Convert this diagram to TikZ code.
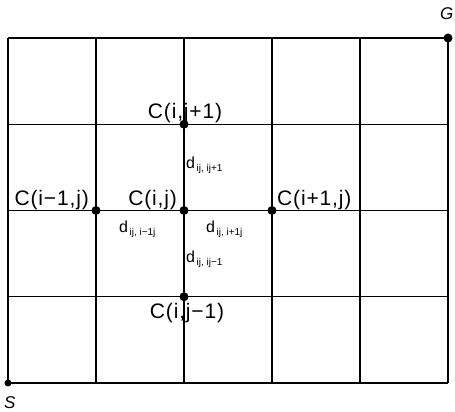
\documentclass[tikz,border=0pt]{standalone}
\usepackage{fontspec}
\setmainfont{Liberation Sans}
\newfontfamily\cellfont[LetterSpace=4]{Liberation Sans}
\usepackage{tikz}
\usetikzlibrary{positioning}
\definecolor{ink}{RGB}{0,0,0}
\newcommand{\dsub}[1]{d\kern1.5pt\raisebox{-3.5pt}{\fontsize{10}{10}\selectfont #1}}
\tikzset{
  gridline/.style={line width=1.3pt,ink},
  vertex/.style={circle,fill=ink,inner sep=0pt,minimum size=9pt},
  cell/.style={font=\cellfont\fontsize{21}{24}\selectfont,inner sep=0pt,text=ink},
  cost/.style={font=\fontsize{16}{18}\selectfont,inner sep=0pt,text=ink,anchor=base west},
  corner/.style={font=\fontsize{17}{20}\selectfont\itshape,inner sep=0pt,text=ink,anchor=base west}
}

\begin{document}
\begin{tikzpicture}[x=88pt,y=86.25pt]
  \useasboundingbox (-8pt,-29pt) rectangle ++(455pt,412pt);
  \draw[gridline] (0,0) grid[step={(1,1)}] (5,4);
  % start, goal and the cell with its four neighbours
  \node[vertex,minimum size=7pt] (S) at (0,0) {};
  \node[vertex] (G) at (5,4) {};
  \node[vertex] (cij) at (2,2) {};
  \node[vertex] (cimj) at (1,2) {};
  \node[vertex] (cipj) at (3,2) {};
  \node[vertex] (cijp) at (2,3) {};
  \node[vertex] (cijm) at (2,1) {};
  \node[corner,xshift=-4pt,yshift=-26pt] (lS) at (S.center) {S};
  \node[corner,xshift=-8pt,yshift=18pt] (lG) at (G.center) {G};
  \node[cell,anchor=base east,xshift=-7pt,yshift=5pt] (lcij) at (cij.center) {C(i,j)};
  \node[cell,anchor=base east,xshift=-7pt,yshift=5pt] (lcimj) at (cimj.center) {C(i−1,j)};
  \node[cell,anchor=base west,xshift=5pt,yshift=5pt] (lcipj) at (cipj.center) {C(i+1,j)};
  \node[cell,anchor=base,xshift=1pt,yshift=6pt] (lcijp) at (cijp.center) {C(i,j+1)};
  \node[cell,anchor=base,xshift=3pt,yshift=-22pt] (lcijm) at (cijm.center) {C(i,j−1)};
  % costs between neighbours
  \node[cost,xshift=2pt,yshift=42pt] (dup) at (cij.center) {\dsub{ij, ij+1}};
  \node[cost,xshift=-65pt,yshift=-22pt] (dleft) at (cij.center) {\dsub{ij, i−1j}};
  \node[cost,xshift=22pt,yshift=-22pt] (dright) at (cij.center) {\dsub{ij, i+1j}};
  \node[cost,xshift=2pt,yshift=-52pt] (ddown) at (cij.center) {\dsub{ij, ij−1}};
\end{tikzpicture}
\end{document}
